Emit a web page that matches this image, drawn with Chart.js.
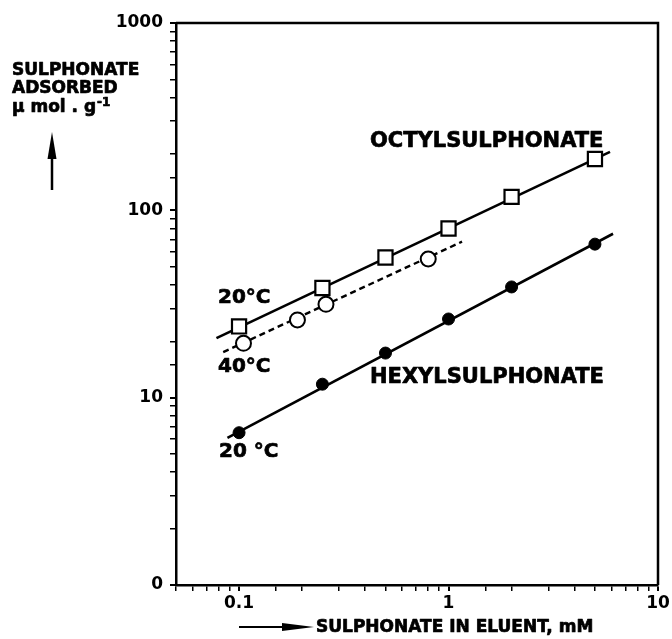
<!DOCTYPE html>
<html><head><meta charset="utf-8">
<script src="https://cdn.jsdelivr.net/npm/chart.js@4"></script>
<style>html,body{margin:0;padding:0;background:#fff}#wrap{width:672px;height:639px;position:relative}</style>
</head><body><div id="wrap"><canvas id="c" width="672" height="639"></canvas></div>
<script>
// ---- data ----
const concOctyl20 = [0.1, 0.25, 0.5, 1, 2, 5];
const adsOctyl20  = [24, 38.5, 56, 80, 118, 188];
const concOctyl40 = [0.105, 0.19, 0.26, 0.8];
const adsOctyl40  = [19.5, 26, 31.5, 55];
const concHexyl20 = [0.1, 0.25, 0.5, 1, 2, 5];
const adsHexyl20  = [6.5, 11.8, 17.3, 26.3, 39, 66];
// fitted straight lines (end points as drawn)
const fitOctyl20X = [0.078, 5.9];
const fitOctyl20Y = [20.8, 205];
const fitOctyl40X = [0.084, 1.16];
const fitOctyl40Y = [17.5, 68];
const fitHexyl20X = [0.088, 6.1];
const fitHexyl20Y = [6.1, 75];
// tick labels
const xTickValues = [0.1, 1, 10];
const xTickLabels = ['0.1', '1', '10'];
const yTickValues = [1, 10, 100, 1000];
const yTickLabels = ['0', '10', '100', '1000'];

const FONT = 'DejaVu Sans';
const pts = (xs, ys) => xs.map((x, i) => ({x: x, y: ys[i]}));
const isMajor = v => Math.abs(Math.log10(v) - Math.round(Math.log10(v))) < 1e-6;
function labelFor(v, vals, labs) {
  for (let i = 0; i < vals.length; i++) if (Math.abs(Math.log10(v) - Math.log10(vals[i])) < 1e-6) return labs[i];
  return '';
}
function heavyText(ctx, t, x, y) {
  ctx.fillText(t, x, y);
  ctx.strokeText(t, x, y);
}

const deco = {
  id: 'deco',
  afterDraw(chart) {
    const ctx = chart.ctx, a = chart.chartArea;
    ctx.save();
    ctx.strokeStyle = '#000'; ctx.fillStyle = '#000';
    // top and right frame
    ctx.lineWidth = 2.5;
    ctx.beginPath();
    ctx.moveTo(a.left, a.top); ctx.lineTo(a.right, a.top); ctx.lineTo(a.right, a.bottom);
    ctx.stroke();
    // arrows
    ctx.lineWidth = 2.5;
    ctx.beginPath(); ctx.moveTo(52, 190); ctx.lineTo(52, 150); ctx.stroke();
    ctx.beginPath(); ctx.moveTo(52, 132); ctx.lineTo(56.5, 159); ctx.lineTo(47.5, 159); ctx.closePath(); ctx.fill();
    ctx.lineWidth = 2;
    ctx.beginPath(); ctx.moveTo(239, 627); ctx.lineTo(290, 627); ctx.stroke();
    ctx.beginPath(); ctx.moveTo(314, 627); ctx.lineTo(282, 623); ctx.lineTo(282, 631); ctx.closePath(); ctx.fill();
    // texts
    ctx.lineWidth = 0.7; ctx.lineJoin = 'round';
    ctx.textBaseline = 'middle'; ctx.textAlign = 'left';
    ctx.font = 'bold 17px "' + FONT + '"';
    heavyText(ctx, 'SULPHONATE', 12, 71);
    heavyText(ctx, 'ADSORBED', 12, 89);
    const t3 = '\u03bc mol . g';
    heavyText(ctx, t3, 12, 108);
    const w3 = ctx.measureText(t3).width;
    ctx.font = 'bold 12px "' + FONT + '"';
    heavyText(ctx, '-1', 12 + w3 + 1, 103);
    ctx.font = 'bold 17px "' + FONT + '"';
    heavyText(ctx, 'SULPHONATE IN ELUENT, mM', 316, 628);
    ctx.font = 'bold 21px "' + FONT + '"';
    heavyText(ctx, 'OCTYLSULPHONATE', 370, 142);
    heavyText(ctx, 'HEXYLSULPHONATE', 370, 378);
    ctx.font = 'bold 20px "' + FONT + '"';
    heavyText(ctx, '20\u00b0C', 218, 298);
    heavyText(ctx, '40\u00b0C', 218, 367);
    heavyText(ctx, '20 \u00b0C', 219, 452);
    ctx.restore();
  }
};

const axisFont = {family: FONT, weight: 'bold', size: 17};
new Chart(document.getElementById('c'), {
  type: 'scatter',
  data: {
    datasets: [
      {data: pts(fitOctyl20X, fitOctyl20Y), showLine: true, borderColor: '#000', borderWidth: 2.6, pointRadius: 0, order: 2},
      {data: pts(fitOctyl40X, fitOctyl40Y), showLine: true, borderColor: '#000', borderWidth: 2.4, borderDash: [6, 4], pointRadius: 0, order: 2},
      {data: pts(fitHexyl20X, fitHexyl20Y), showLine: true, borderColor: '#000', borderWidth: 2.6, pointRadius: 0, order: 2},
      {data: pts(concOctyl20, adsOctyl20), showLine: false, pointStyle: 'rect', pointRadius: 10, backgroundColor: '#fff', borderColor: '#000', pointBorderWidth: 2.2, order: 0},
      {data: pts(concOctyl40, adsOctyl40), showLine: false, pointStyle: 'circle', pointRadius: 7.5, backgroundColor: '#fff', borderColor: '#000', pointBorderWidth: 2, order: 0},
      {data: pts(concHexyl20, adsHexyl20), showLine: false, pointStyle: 'circle', pointRadius: 6, backgroundColor: '#000', borderColor: '#000', pointBorderWidth: 1, order: 0}
    ]
  },
  options: {
    responsive: false, animation: false,
    layout: {padding: {left: 0, top: 23, right: 14, bottom: 0}},
    plugins: {legend: {display: false}, tooltip: {enabled: false}},
    scales: {
      x: {
        type: 'logarithmic', min: 0.05, max: 10, position: 'bottom',
        border: {display: true, color: '#000', width: 2.5},
        grid: {drawOnChartArea: false, drawTicks: true, tickLength: 6, color: '#000',
               lineWidth: c => (c.tick && isMajor(c.tick.value)) ? 2 : 1.5},
        ticks: {autoSkip: false, maxRotation: 0, padding: 2, color: '#000', font: axisFont,
                callback: v => labelFor(v, xTickValues, xTickLabels)},
        afterFit: s => { s.height = 54; }
      },
      y: {
        type: 'logarithmic', min: 1, max: 1000,
        border: {display: true, color: '#000', width: 2.5},
        grid: {drawOnChartArea: false, drawTicks: true, tickLength: 6, color: '#000',
               lineWidth: c => (c.tick && isMajor(c.tick.value)) ? 2 : 1.5},
        ticks: {autoSkip: false, padding: 7, color: '#000', font: axisFont,
                callback: v => labelFor(v, yTickValues, yTickLabels)},
        afterFit: s => { s.width = 176; }
      }
    }
  },
  plugins: [deco]
});
</script>
</body></html>
